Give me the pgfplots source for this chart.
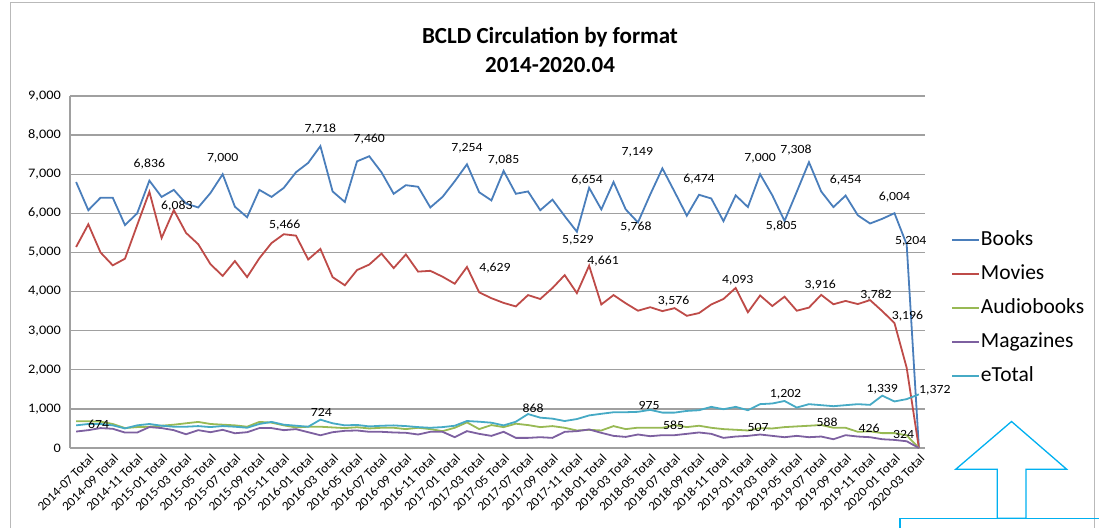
\documentclass[border=0pt]{standalone}
\usepackage{fontspec}
\setmainfont{Carlito}
\usepackage{pgfplots}
\pgfplotsset{compat=1.18}
\usepackage{pgfplotstable}
\newfontfamily\tickfont[FakeStretch=1.1]{Carlito}
\newfontfamily\xtickfont[FakeStretch=1.04]{Carlito}
\newcommand\labfont{\tickfont\fontsize{12.5}{14}\selectfont}
\newcommand\tfont{\tickfont\fontsize{13}{15}\selectfont}
\newcommand\xtfont{\xtickfont\fontsize{12.8}{15}\selectfont}
\newcommand\legfont{\fontsize{21.5}{24}\selectfont}
\definecolor{cBooks}{RGB}{74,126,187}
\definecolor{cMovies}{RGB}{190,75,72}
\definecolor{cAudio}{RGB}{152,185,84}
\definecolor{cMags}{RGB}{125,96,160}
\definecolor{cE}{RGB}{70,170,197}
\definecolor{gridc}{RGB}{160,160,160}
\definecolor{arrowc}{RGB}{0,176,240}

\pgfplotstableread{
i books movies audio mags etot
0 6800 5140 684 421 579
1 6080 5720 684 456 614
2 6400 5000 674 509 614
3 6400 4670 614 491 579
4 5700 4840 509 395 500
5 6000 5700 535 395 579
6 6836 6550 544 535 614
7 6420 5370 570 509 570
8 6600 6083 596 456 544
9 6250 5500 632 351 544
10 6150 5210 667 456 560
11 6520 4700 614 404 535
12 7000 4400 596 465 561
13 6170 4780 579 377 544
14 5900 4370 544 404 518
15 6600 4850 667 509 614
16 6420 5240 649 509 667
17 6650 5466 579 456 596
18 7050 5430 526 482 570
19 7290 4820 544 404 544
20 7718 5090 544 325 724
21 6560 4370 526 404 632
22 6290 4160 509 439 579
23 7330 4550 530 448 590
24 7460 4690 500 414 552
25 7050 4970 517 414 569
26 6500 4600 517 397 578
27 6720 4950 483 388 560
28 6680 4510 517 345 534
29 6150 4530 483 414 517
30 6420 4380 431 414 534
31 6820 4200 517 276 569
32 7254 4629 655 431 690
33 6540 3980 483 362 672
34 6330 3830 586 310 647
35 7085 3710 534 414 578
36 6500 3620 621 259 672
37 6560 3910 586 259 868
38 6080 3810 534 276 776
39 6350 4090 560 259 750
40 5930 4420 517 414 690
41 5529 3960 448 431 740
42 6654 4661 465 474 833
43 6100 3670 448 388 875
44 6800 3910 560 310 914
45 6100 3700 483 284 915
46 5768 3510 520 345 925
47 6480 3600 517 302 975
48 7149 3500 517 328 905
49 6550 3576 585 328 905
50 5940 3380 534 362 948
51 6474 3450 569 397 966
52 6380 3670 517 362 1052
53 5800 3810 483 259 991
54 6460 4093 466 293 1052
55 6160 3470 448 310 966
56 7000 3900 507 345 1121
57 6460 3630 500 310 1138
58 5805 3870 534 276 1202
59 6550 3510 552 310 1034
60 7308 3590 569 276 1121
61 6560 3916 588 293 1095
62 6160 3675 517 224 1069
63 6454 3760 517 328 1095
64 5950 3680 414 293 1121
65 5740 3782 426 276 1103
66 5860 3500 380 224 1339
67 6004 3196 380 207 1190
68 5204 2050 324 172 1250
69 0 0 0 0 1372
}\data

\pgfplotstableread{
x y lab dx dy
6 6836 6,836 0 17
12 7000 7,000 0 16
20 7718 7,718 0 17
24 7460 7,460 0 17
32 7254 7,254 0 16
35 7085 7,085 0 11
41 5529 5,529 1 -8
42 6654 6,654 -2 8
46 5768 5,768 -2 -5
48 7149 7,149 -25 16
51 6474 6,474 0 16
56 7000 7,000 0 16
58 5805 5,805 -3 -5
60 7308 7,308 -13 12
63 6454 6,454 0 16
67 6004 6,004 0 16
68 5204 5,204 4 3
}\booksLab

\pgfplotstableread{
x y lab dx dy
8 6083 6,083 3 4
17 5466 5,466 1 9
32 4629 4,629 28 -1
42 4661 4,661 14 5
49 3576 3,576 -1 7
54 4093 4,093 2 8
61 3916 3,916 -1 10
65 3782 3,782 6 5
67 3196 3,196 13 7
}\moviesLab

\pgfplotstableread{
x y lab dx dy
2 674 674 -2 -3
49 585 585 -1 0
56 507 507 -2 1
61 588 588 6 3
65 426 426 -1 3
68 324 324 -3 1
}\audioLab

\pgfplotstableread{
x y lab dx dy
20 724 724 1 7
37 868 868 5 6
47 975 975 -1 4
58 1202 1,202 1 7
66 1339 1,339 0 6
69 1372 1,372 16 4
}\eLab

\pgfplotsset{
  lab/.style={forget plot, draw=none, nodes near coords,
    point meta=explicit symbolic,
    visualization depends on={\thisrow{dx}\as\dx},
    visualization depends on={\thisrow{dy}\as\dy},
    every node near coord/.append style={anchor=center, xshift=\dx pt, yshift=\dy pt, font=\labfont, text=black, inner sep=0pt}}
}

\begin{document}
\begin{tikzpicture}[x=1pt,y=1pt]
\useasboundingbox (0,0) rectangle (1099,527);
\draw[gray!55, line width=0.8pt] (10,-5) -- (10,525) -- (1094,525) -- (1094,-5);
\node[font=\bfseries\fontsize{23}{26}\selectfont, anchor=base] at (550,483) {BCLD Circulation by format};
\node[font=\bfseries\fontsize{23}{26}\selectfont, anchor=base] at (550,454) {2014-2020.04};
\begin{axis}[
  at={(70pt,79pt)}, anchor=south west,
  scale only axis, width=855pt, height=352pt,
  xmin=-0.5, xmax=69.5, ymin=0, ymax=9000,
  clip=false,
  axis x line*=bottom, axis y line*=left,
  axis line style={-, draw=gridc, line width=1.3pt},
  ymajorgrids, major grid style={draw=gridc, line width=1.3pt},
  ytick={0,1000,...,9000},
  xtick={0,2,...,68},
  xticklabels={2014-07 Total,2014-09 Total,2014-11 Total,
    2015-01 Total,2015-03 Total,2015-05 Total,2015-07 Total,2015-09 Total,2015-11 Total,
    2016-01 Total,2016-03 Total,2016-05 Total,2016-07 Total,2016-09 Total,2016-11 Total,
    2017-01 Total,2017-03 Total,2017-05 Total,2017-07 Total,2017-09 Total,2017-11 Total,
    2018-01 Total,2018-03 Total,2018-05 Total,2018-07 Total,2018-09 Total,2018-11 Total,
    2019-01 Total,2019-03 Total,2019-05 Total,2019-07 Total,2019-09 Total,2019-11 Total,
    2020-01 Total,2020-03 Total},
  major tick length=0pt,
  tick label style={font=\tfont, inner sep=0pt},
  xticklabel style={font=\xtfont, rotate=45, anchor=east, xshift=5pt, yshift=-17pt},
  yticklabel style={xshift=-9pt, /pgf/number format/1000 sep={,}},
  /pgf/number format/assume math mode=true,
  legend style={at={(axis description cs:1.0304,0.619)}, anchor=north west,
    draw=none, fill=none, inner sep=0pt, row sep=14pt, font=\legfont,
    nodes={inner sep=1pt, text height=14pt, text depth=4pt},
    /tikz/every even column/.append style={column sep=0pt}},
  legend cell align=left,
  legend image code/.code={\draw[#1] (0pt,0pt) -- (27pt,0pt);},
]
\addplot[cBooks, line width=1.8pt] table[x=i, y=books] {\data};
\addlegendentry{Books}
\addplot[cMovies, line width=1.8pt] table[x=i, y=movies] {\data};
\addlegendentry{Movies}
\addplot[cAudio, line width=1.8pt] table[x=i, y=audio] {\data};
\addlegendentry{Audiobooks}
\addplot[cMags, line width=1.8pt] table[x=i, y=mags] {\data};
\addlegendentry{Magazines}
\addplot[cE, line width=1.8pt] table[x=i, y=etot] {\data};
\addlegendentry{eTotal}
\addplot[lab] table[x=x, y=y, meta=lab] {\booksLab};
\addplot[lab] table[x=x, y=y, meta=lab] {\moviesLab};
\addplot[lab] table[x=x, y=y, meta=lab] {\audioLab};
\addplot[lab] table[x=x, y=y, meta=lab] {\eLab};
\end{axis}
\draw[arrowc, line width=1.3pt, fill=white] (1011.5,105.5) -- (1066.7,57.7) -- (1026,57.7) -- (1026,8.7) -- (997.3,8.7) -- (997.3,57.7) -- (955.7,57.7) -- cycle;
\draw[arrowc, line width=1.3pt] (900,-5) -- (900,8.7) -- (1105,8.7);
\end{tikzpicture}
\end{document}
